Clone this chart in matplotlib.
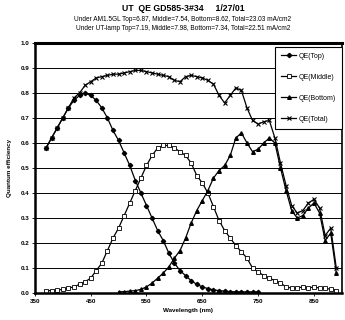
import matplotlib.pyplot as plt
from matplotlib.ticker import FormatStrFormatter

plt.rcParams['font.family'] = ['Liberation Sans', 'DejaVu Sans']

# wavelengths (nm) for each series
wl_top = list(range(370, 760, 10))
wl_mid = list(range(370, 900, 10))
wl_bot = list(range(500, 900, 10))
wl_tot = list(range(370, 900, 10))

qe_top = [0.58, 0.62, 0.66, 0.70, 0.74, 0.77, 0.79, 0.80, 0.79, 0.77,
          0.74, 0.70, 0.65, 0.61, 0.56, 0.51, 0.45, 0.40, 0.35, 0.30,
          0.25, 0.21, 0.16, 0.12, 0.09, 0.07, 0.05, 0.035, 0.025, 0.018,
          0.013, 0.01, 0.008, 0.006, 0.005, 0.005, 0.005, 0.005, 0.005]
qe_mid = [0.01, 0.01, 0.012, 0.015, 0.02, 0.025, 0.035, 0.045, 0.06, 0.09,
          0.12, 0.17, 0.22, 0.26, 0.31, 0.36, 0.41, 0.46, 0.51, 0.55,
          0.58, 0.59, 0.59, 0.58, 0.565, 0.55, 0.52, 0.47, 0.44, 0.40,
          0.345, 0.29, 0.25, 0.22, 0.19, 0.165, 0.14, 0.10, 0.085, 0.07,
          0.06, 0.05, 0.04, 0.025, 0.02, 0.02, 0.025, 0.02, 0.025, 0.02,
          0.02, 0.015, 0.01]
qe_bot = [0.005, 0.006, 0.008, 0.01, 0.015, 0.025, 0.04, 0.06, 0.08, 0.105,
          0.14, 0.17, 0.22, 0.28, 0.33, 0.37, 0.41, 0.46, 0.49, 0.51,
          0.55, 0.62, 0.64, 0.60, 0.565, 0.575, 0.60, 0.62, 0.60, 0.50,
          0.41, 0.33, 0.30, 0.31, 0.34, 0.36, 0.32, 0.21, 0.24, 0.08]
qe_tot = [0.58, 0.62, 0.66, 0.70, 0.74, 0.78, 0.80, 0.83, 0.845, 0.86,
          0.865, 0.87, 0.875, 0.875, 0.88, 0.885, 0.89, 0.89, 0.885, 0.88,
          0.875, 0.87, 0.865, 0.85, 0.845, 0.865, 0.87, 0.865, 0.86, 0.85,
          0.835, 0.79, 0.76, 0.79, 0.82, 0.81, 0.74, 0.69, 0.675, 0.685,
          0.69, 0.62, 0.52, 0.43, 0.35, 0.32, 0.33, 0.36, 0.375, 0.34,
          0.23, 0.26, 0.10]

x_ticks = [350, 450, 550, 650, 750, 850]
y_ticks = [0.0, 0.1, 0.2, 0.3, 0.4, 0.5, 0.6, 0.7, 0.8, 0.9, 1.0]

fig = plt.figure(figsize=(3.45, 3.2), dpi=100)
ax = fig.add_axes([0.101, 0.084, 0.89, 0.782])

ax.plot(wl_top, qe_top, color='black', lw=0.9, marker='D', ms=2.2,
        mfc='black', label='QE(Top)')
ax.plot(wl_mid, qe_mid, color='black', lw=0.9, marker='s', ms=2.8,
        mfc='white', mew=0.6, label='QE(Middle)')
ax.plot(wl_bot, qe_bot, color='black', lw=0.9, marker='^', ms=2.6,
        mfc='black', label='QE(Bottom)')
ax.plot(wl_tot, qe_tot, color='black', lw=0.9, marker='x', ms=2.8,
        mew=0.8, label='QE(Total)')

ax.set_xlim(350, 900)
ax.set_ylim(0, 1.0)
ax.set_xticks(x_ticks)
ax.set_yticks(y_ticks)
ax.yaxis.set_major_formatter(FormatStrFormatter('%.1f'))
ax.tick_params(labelsize=4.5, length=2, width=0.6, pad=2)
for lbl in ax.get_xticklabels() + ax.get_yticklabels():
    lbl.set_fontweight('bold')
ax.grid(axis='y', color='black', lw=0.7)
ax.set_axisbelow(True)
for s in ax.spines.values():
    s.set_linewidth(1.2)
ax.spines['top'].set_linewidth(2.2)
ax.spines['left'].set_linewidth(1.8)
ax.spines['bottom'].set_linewidth(1.8)

ax.set_xlabel('Wavelength (nm)', fontsize=4.5, fontweight='bold', labelpad=3)
ax.set_ylabel('Quantum efficiency', fontsize=4.5, fontweight='bold', labelpad=6)

leg = ax.legend(loc='upper right', bbox_to_anchor=(1.0, 0.985), fontsize=5,
                frameon=True, fancybox=False, borderaxespad=0,
                labelspacing=2.0, handlelength=2.2, handletextpad=0.3,
                borderpad=0.9)
leg.get_frame().set_edgecolor('black')
leg.get_frame().set_linewidth(0.8)
leg.get_frame().set_alpha(1)

fig.text(0.53, 0.972, 'UT  QE GD585-3#34     1/27/01', ha='center', va='center',
         fontsize=6.3, fontweight='bold')
fig.text(0.53, 0.938, 'Under AM1.5GL Top=6.87, Middle=7.54, Bottom=8.62, Total=23.03 mA/cm2',
         ha='center', va='center', fontsize=4.7)
fig.text(0.53, 0.912, 'Under UT-lamp Top=7.19, Middle=7.98, Bottom=7.34, Total=22.51 mA/cm2',
         ha='center', va='center', fontsize=4.7)

fig.savefig('out.png', dpi=100)
